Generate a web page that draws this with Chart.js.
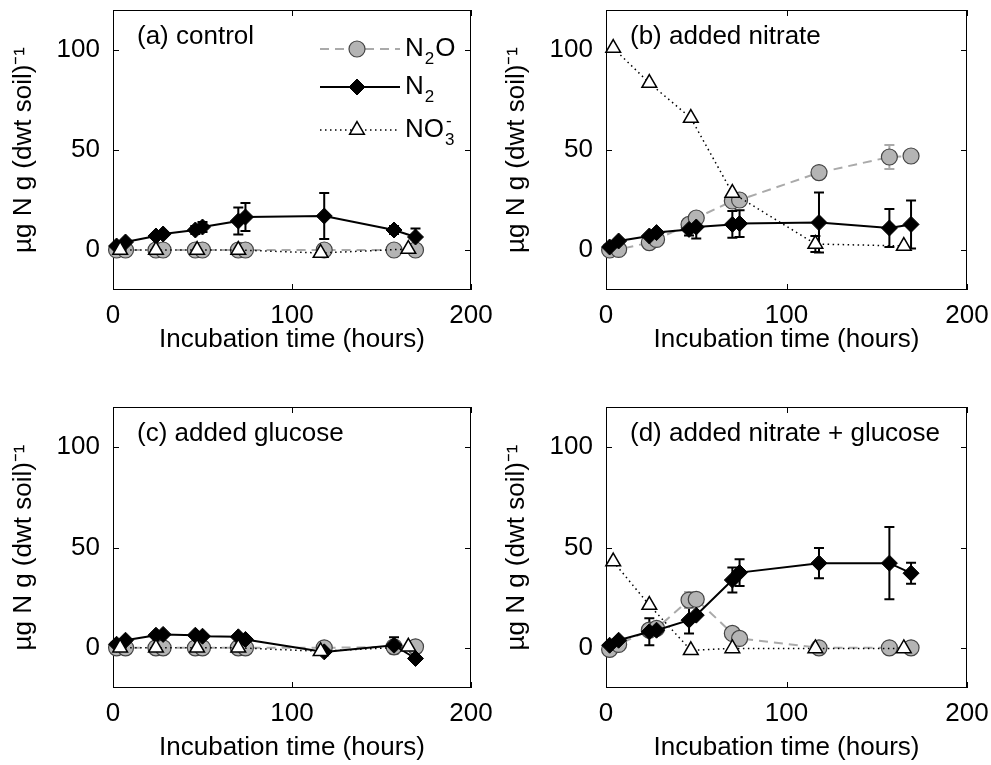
<!DOCTYPE html>
<html>
<head>
<meta charset="utf-8">
<script src="https://cdn.jsdelivr.net/npm/chart.js@4.4.1/dist/chart.umd.min.js"></script>
<style>
  html, body { margin: 0; padding: 0; background: #fff; }
  #wrap { position: relative; width: 991px; height: 765px; overflow: hidden; }
  #wrap canvas { position: absolute; }
</style>
</head>
<body>
<div id="wrap">
  <canvas id="pa" width="495" height="385" style="left:0;top:0"></canvas>
  <canvas id="pb" width="496" height="385" style="left:495px;top:0"></canvas>
  <canvas id="pc" width="495" height="380" style="left:0;top:385px"></canvas>
  <canvas id="pd" width="496" height="380" style="left:495px;top:385px"></canvas>
</div>
<script>
// === data ===
const tGas = [2, 7, 24, 28, 46, 50, 70, 74, 118, 157, 169];   // N2O + N2 sampling times (h)
const tNO3 = [4, 24, 47, 70, 116, 165];                          // nitrate sampling times (h)
const xTicks = [0, 100, 200];
const yTicks = [0, 50, 100];

// (a) control
const aN2O    = [0, 0, 0, 0, 0, 0, 0, 0, 0, 0, 0];
const aN2     = [2, 4, 7, 8, 10, 11.5, 14.5, 16.5, 17, 10, 6.5];
const aN2err  = [null, null, null, null, 2, 2.5, 6.7, 7, 11.5, 2, 4.2];
const aNO3    = [0, 0, 0, 0, -1.5, 0.5];

// (b) added nitrate
const bN2O    = [0, 0.3, 3.7, 5.3, 12.8, 16, 24.5, 25, 38.7, 46.5, 47];
const bN2Oerr = [null, null, null, null, null, null, 2, null, null, 6, null];
const bN2     = [1.5, 4.5, 7, 8.7, 10.3, 11.5, 12.8, 13.2, 13.7, 11, 12.8];
const bN2err  = [null, null, null, null, 3, 5.8, 6.7, 6.7, 15, 9.5, 12];
const bNO3    = [101, 83.5, 66, 28.5, 3, 2];
const bNO3err = [null, null, null, null, 4, null];

// (c) added glucose
const cN2O    = [0, 0, 0, 0, 0, 0, 0, 0, 0, 0.5, 0.5];
const cN2     = [1.8, 3.8, 6.3, 6.7, 6.3, 5.8, 5.5, 4.2, -2, 1.3, -5.3];
const cN2err  = [null, null, null, null, null, null, null, null, null, 4, null];
const cNO3    = [0, 0, 0, 0, -1.7, 0.5];

// (d) added nitrate + glucose
const dN2O    = [-0.8, 1.7, 8.8, 9.7, 23.8, 24.2, 7.2, 4.7, 0, 0, 0];
const dN2Oerr = [null, null, null, null, 4, null, null, null, null, null, null];
const dN2     = [1.3, 3.8, 8, 8.8, 13.8, 16.3, 33.8, 37.5, 42.2, 42.2, 37.2];
const dN2err  = [null, null, 6.7, null, 6.7, null, 6.2, 6.7, 7.5, 18, 5.2];
const dNO3    = [43, 21.3, -1.2, -0.3, -0.3, -0.3];

const xTitle = 'Incubation time (hours)';
const yTitle = 'µg N g (dwt soil)⁻¹';

// === style ===
const FONT = "'Liberation Sans', Arial, Helvetica, sans-serif";
Chart.defaults.font.family = FONT;
Chart.defaults.font.size = 26;
Chart.defaults.color = '#000';

const STY = {
  n2o: { line: '#aaaaaa', fill: '#b4b4b4', edge: '#444', style: 'circle', r: 8, dash: [9, 6], lw: 2, ew: 1.2 },
  n2:  { line: '#000', fill: '#000', edge: '#000', style: 'rectRot', r: 8, dash: [], lw: 2, ew: 1 },
  no3: { line: '#000', fill: '#fff', edge: '#000', style: 'triangle', r: 8.5, dash: [1.5, 3.5], lw: 1.5, ew: 1.5 },
};

function pts(ts, vs){ return ts.map((t, i) => ({ x: t, y: vs[i] })); }

function ds(label, ts, vs, errs, s, order){
  return {
    label, data: pts(ts, vs), errors: errs || null, order,
    borderColor: s.line, borderWidth: s.lw, borderDash: s.dash,
    pointStyle: s.style, pointRadius: s.r, pointBackgroundColor: s.fill,
    pointBorderColor: s.edge, pointBorderWidth: s.ew, tension: 0, clip: false,
  };
}

// frame with inward ticks + error bars, under the markers
const framePlugin = {
  id: 'frame',
  beforeDatasetsDraw(chart){
    const { ctx, chartArea: a, scales: { x, y } } = chart;
    ctx.save();
    ctx.strokeStyle = '#000';
    ctx.lineWidth = 1;
    ctx.strokeRect(a.left + 0.5, a.top + 0.5, a.width - 1, a.height - 1);
    const tl = 6;
    ctx.beginPath();
    xTicks.forEach(v => {
      const px = Math.round(x.getPixelForValue(v)) + 0.5;
      ctx.moveTo(px, a.bottom); ctx.lineTo(px, a.bottom - tl);
      ctx.moveTo(px, a.top); ctx.lineTo(px, a.top + tl);
    });
    yTicks.forEach(v => {
      const py = Math.round(y.getPixelForValue(v)) + 0.5;
      ctx.moveTo(a.left, py); ctx.lineTo(a.left + tl, py);
      ctx.moveTo(a.right, py); ctx.lineTo(a.right - tl, py);
    });
    ctx.stroke();

    // error bars
    chart.data.datasets.forEach(d => {
      if (!d.errors) return;
      ctx.strokeStyle = d.borderColor;
      ctx.lineWidth = 2;
      ctx.setLineDash([]);
      d.data.forEach((p, i) => {
        const e = d.errors[i];
        if (e == null) return;
        const px = x.getPixelForValue(p.x);
        const y1 = y.getPixelForValue(p.y + e), y0 = y.getPixelForValue(p.y - e);
        ctx.beginPath();
        ctx.moveTo(px, y1); ctx.lineTo(px, y0);
        ctx.moveTo(px - 5, y1); ctx.lineTo(px + 5, y1);
        ctx.moveTo(px - 5, y0); ctx.lineTo(px + 5, y0);
        ctx.stroke();
      });
    });
    ctx.restore();
  },
  afterDraw(chart, args, opts){
    const { ctx, chartArea: a } = chart;
    ctx.save();
    ctx.fillStyle = '#000';
    ctx.font = `26px ${FONT}`;
    ctx.textBaseline = 'middle';
    ctx.fillText(opts.label, a.left + 24, a.top + 27);
    if (opts.legend) drawLegend(ctx, a);
    ctx.restore();
  }
};

function richText(ctx, x, y, parts){
  // parts: [text, 'n' | 'sub' | 'subsup', sup]
  parts.forEach(([txt, kind, sup]) => {
    if (kind === 'n') {
      ctx.font = `26px ${FONT}`;
      ctx.fillText(txt, x, y);
      x += ctx.measureText(txt).width;
    } else {
      ctx.font = `17px ${FONT}`;
      ctx.fillText(txt, x + 1, y + 10);
      if (sup) ctx.fillText(sup, x + 2, y - 9);
      x += ctx.measureText(txt).width + 2;
    }
  });
}

function drawLegend(ctx, a){
  const rows = [
    { s: STY.n2o, dy: 39, parts: [['N', 'n'], ['2', 'sub'], ['O', 'n']] },
    { s: STY.n2,  dy: 77, parts: [['N', 'n'], ['2', 'sub']] },
    { s: STY.no3, dy: 120, parts: [['NO', 'n'], ['3', 'subsup', '-']] },
  ];
  rows.forEach(r => {
    const y = a.top + r.dy;
    ctx.save();
    ctx.strokeStyle = r.s.line;
    ctx.lineWidth = r.s.lw;
    ctx.setLineDash(r.s.dash);
    ctx.beginPath();
    ctx.moveTo(a.left + 207, y); ctx.lineTo(a.left + 287, y);
    ctx.stroke();
    ctx.setLineDash([]);
    ctx.fillStyle = r.s.fill;
    ctx.strokeStyle = r.s.edge;
    ctx.lineWidth = r.s.ew;
    Chart.helpers.drawPoint(ctx, { pointStyle: r.s.style, radius: r.s.r, borderWidth: r.s.ew, rotation: 0 }, a.left + 244, y);
    ctx.restore();
    ctx.fillStyle = '#000';
    ctx.textBaseline = 'middle';
    richText(ctx, a.left + 292, y, r.parts);
  });
}

function makePanel(id, label, n2o, n2oErr, n2, n2Err, no3, no3Err, lay){
  return new Chart(document.getElementById(id), {
    type: 'line',
    data: {
      datasets: [
        ds('NO3-', tNO3, no3, no3Err, STY.no3, 0),
        ds('N2', tGas, n2, n2Err, STY.n2, 1),
        ds('N2O', tGas, n2o, n2oErr, STY.n2o, 2),
      ]
    },
    options: {
      responsive: false,
      animation: false,
      events: [],
      layout: { padding: { top: lay.top, right: lay.right, left: 0, bottom: 0 } },
      plugins: { legend: { display: false }, tooltip: { enabled: false }, frame: { label, legend: !!lay.legend } },
      scales: {
        x: {
          type: 'linear', min: 0, max: 200,
          afterBuildTicks: s => { s.ticks = xTicks.map(v => ({ value: v })); },
          afterFit: s => { s.height = lay.xh; s.paddingLeft = 0; s.paddingRight = 0; },
          grid: { display: false, drawTicks: false }, border: { display: false },
          ticks: { padding: 10, maxRotation: 0 },
          title: { display: true, text: xTitle, padding: { top: 0, bottom: lay.xtp } },
        },
        y: {
          type: 'linear', min: -20, max: 120,
          afterBuildTicks: s => { s.ticks = yTicks.map(v => ({ value: v })); },
          afterFit: s => { s.width = lay.yw; s.paddingTop = 0; s.paddingBottom = 0; },
          grid: { display: false, drawTicks: false }, border: { display: false },
          ticks: { padding: 13 },
          title: { display: true, text: yTitle, padding: { top: lay.ytp, bottom: 0 } },
        }
      }
    },
    plugins: [framePlugin]
  });
}

makePanel('pa', '(a) control', aN2O, null, aN2, aN2err, aNO3, null,
  { top: 8, right: 24, yw: 113, xh: 95, xtp: 30, ytp: 8, legend: true });
makePanel('pb', '(b) added nitrate', bN2O, bN2Oerr, bN2, bN2err, bNO3, bNO3err,
  { top: 8, right: 24, yw: 111, xh: 95, xtp: 30, ytp: 6 });
makePanel('pc', '(c) added glucose', cN2O, null, cN2, cN2err, cNO3, null,
  { top: 22, right: 24, yw: 113, xh: 77, xtp: 2, ytp: 8 });
makePanel('pd', '(d) added nitrate + glucose', dN2O, dN2Oerr, dN2, dN2err, dNO3, null,
  { top: 22, right: 24, yw: 111, xh: 77, xtp: 2, ytp: 6 });
</script>
</body>
</html>
